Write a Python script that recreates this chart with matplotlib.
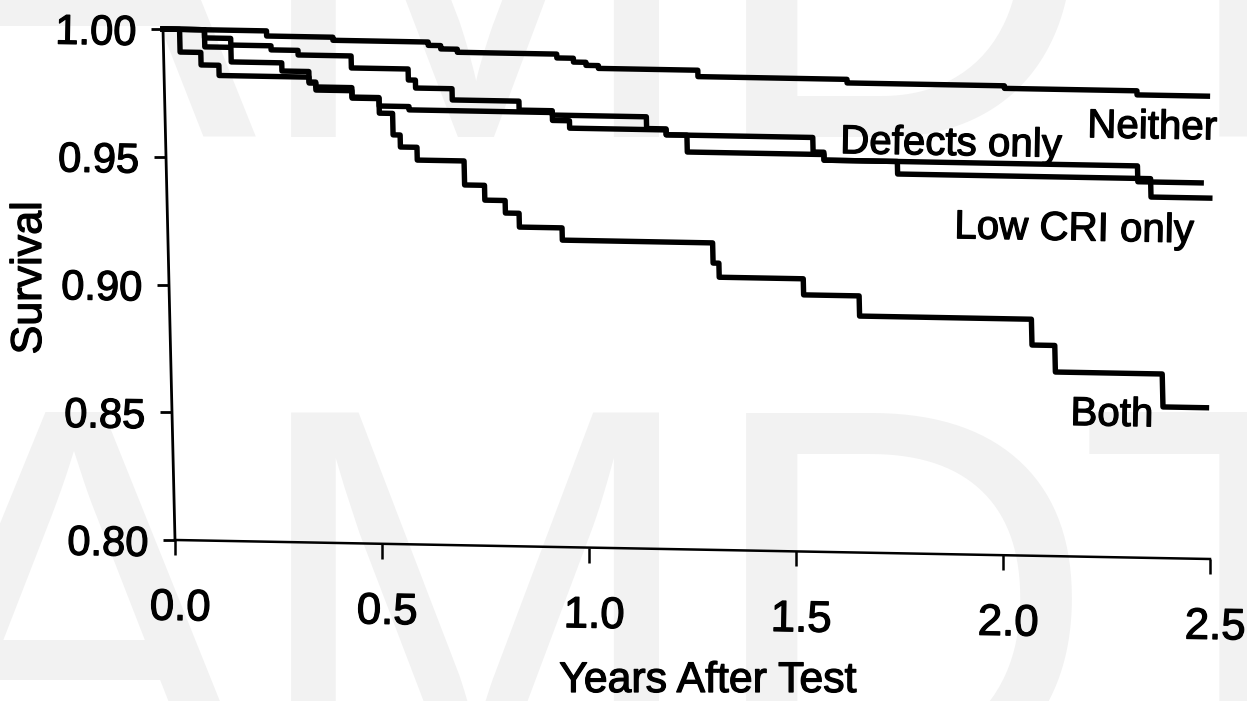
import numpy as np
import matplotlib
matplotlib.use("Agg")
import matplotlib.pyplot as plt
from matplotlib import transforms, patheffects

# Kaplan-Meier steps: time of each drop (years) and survival after it
neither_t = [0.0, 0.25, 0.41, 0.64, 0.67, 0.71, 0.95, 0.99, 1.02, 1.05, 1.29, 1.65, 2.03, 2.35]
neither_s = [1.0, 0.998, 0.9968, 0.9955, 0.9942, 0.9930, 0.9915, 0.9900, 0.9888, 0.9877, 0.9852, 0.9838, 0.9828, 0.9812]
neither_end = 2.52

defects_t = [0.0, 0.10, 0.163, 0.26, 0.325, 0.453, 0.59, 0.607, 0.695, 0.856, 0.936, 1.163, 1.21, 1.564, 1.59, 2.347]
defects_s = [1.0, 0.9968, 0.9942, 0.9926, 0.9908, 0.9861, 0.9818, 0.9787, 0.9743, 0.9708, 0.9691, 0.9645, 0.9622, 0.9565, 0.9534, 0.9472]
defects_end = 2.50

lowcri_t = [0.0, 0.10, 0.163, 0.285, 0.35, 0.366, 0.453, 0.518, 0.59, 0.936, 0.977, 1.21, 1.26, 1.59, 1.767, 2.378]
lowcri_s = [1.0, 0.9933, 0.9876, 0.9844, 0.9803, 0.9784, 0.9747, 0.9714, 0.9701, 0.9670, 0.9641, 0.9622, 0.9556, 0.9534, 0.9485, 0.9413]
lowcri_end = 2.52

both_t = [0.0, 0.04, 0.09, 0.133, 0.35, 0.366, 0.453, 0.518, 0.55, 0.567, 0.607, 0.72, 0.768, 0.817,
          0.85, 0.953, 1.316, 1.33, 1.533, 1.667, 2.082, 2.137, 2.395]
both_s = [1.0, 0.9911, 0.9862, 0.9822, 0.9799, 0.9772, 0.9743, 0.9686, 0.9602, 0.9555, 0.9505, 0.9411, 0.9353, 0.9304,
          0.9250, 0.9202, 0.9123, 0.9068, 0.9005, 0.8926, 0.8825, 0.8721, 0.8592]
both_end = 2.50

x_ticks = [0.0, 0.5, 1.0, 1.5, 2.0, 2.5]
y_ticks = [0.80, 0.85, 0.90, 0.95, 1.00]

curve_labels = ["Neither", "Defects only", "Low CRI only", "Both"]
label_pos = [(2.227, 0.9643), (1.629, 0.9563), (1.90, 0.9238), (2.17, 0.8515)]

plt.rcParams["font.family"] = "Liberation Sans"
ink = [patheffects.withStroke(linewidth=0.9, foreground="black")]

fig = plt.figure(figsize=(12.47, 7.01), dpi=100)

# faint background lettering
for row_y in [0.8046, -0.128]:
    for ch, cx in zip("AMDT", [73, 475, 900, 1245]):
        fig.text(cx / 1247, row_y, ch, fontsize=396, color="#f2f2f2",
                 ha="center", va="baseline", zorder=-5)

ax = fig.add_axes([175 / 1247, 161 / 701, 1035 / 1247, 511 / 701])
ax.set_xlim(0, 2.5)
ax.set_ylim(0.8, 1.0)
ax.axis("off")

# the printed axes are slightly sheared, so add a small skew in axes space
skew = transforms.Affine2D(np.array([[1.0, -12 / 1035, 0.0],
                                     [-19 / 511, 1.0, 0.0],
                                     [0.0, 0.0, 1.0]]))
T = ax.transScale + ax.transLimits + skew + ax.transAxes

curves = [(neither_t, neither_s, neither_end),
          (defects_t, defects_s, defects_end),
          (lowcri_t, lowcri_s, lowcri_end),
          (both_t, both_s, both_end)]
for t, s, end in curves:
    ax.plot(t + [end], s + [s[-1]], drawstyle="steps-post", color="black",
            lw=3.9, transform=T, clip_on=False)

# axis lines and ticks
ax.plot([0, 0], [0.8, 1.0], color="black", lw=2.0, transform=T, clip_on=False)
ax.plot([0, 2.5], [0.8, 0.8], color="black", lw=1.8, transform=T, clip_on=False)
ax.plot(x_ticks, [0.8] * len(x_ticks), ls="none", marker=3, ms=10.5, mew=1.8,
        color="black", transform=T, clip_on=False)
ax.plot([0] * len(y_ticks), y_ticks, ls="none", marker=0, ms=8.6, mew=2.0,
        color="black", transform=T, clip_on=False)

ytext = transforms.offset_copy(T, fig=fig, x=-27, y=-16, units="dots")
for v in y_ticks:
    ax.text(0, v, f"{v:.2f}", transform=ytext, ha="right", va="baseline",
            fontsize=30, rotation=-1, rotation_mode="anchor", path_effects=ink)

xtext = transforms.offset_copy(T, fig=fig, x=5, y=-80, units="dots")
for v in x_ticks:
    ax.text(v, 0.8, f"{v:.1f}", transform=xtext, ha="center", va="baseline",
            fontsize=31.5, rotation=-1, rotation_mode="anchor", path_effects=ink)

for name, (lt, ls) in zip(curve_labels, label_pos):
    ax.text(lt, ls, name, transform=T, ha="left", va="baseline", fontsize=29,
            rotation=-1, rotation_mode="anchor", path_effects=ink)

fig.text(30 / 1247, 1 - 278 / 701, "Survival", rotation=90, ha="center", va="center",
         fontsize=31, path_effects=ink)
fig.text(708 / 1247, 9 / 701, "Years After Test", ha="center", va="baseline",
         fontsize=30.8, path_effects=ink)

fig.savefig("out.png", dpi=100)
